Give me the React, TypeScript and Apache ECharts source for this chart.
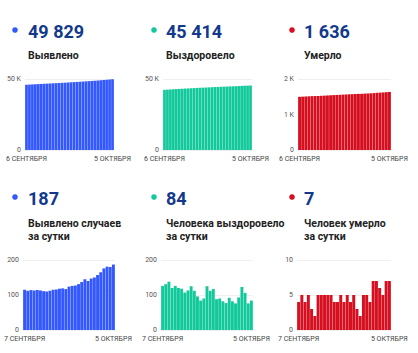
import React, { useEffect, useRef } from "react";
import * as echarts from "echarts";

const datesTop = [
  "6 СЕНТЯБРЯ", "7 СЕНТЯБРЯ", "8 СЕНТЯБРЯ", "9 СЕНТЯБРЯ", "10 СЕНТЯБРЯ", "11 СЕНТЯБРЯ",
  "12 СЕНТЯБРЯ", "13 СЕНТЯБРЯ", "14 СЕНТЯБРЯ", "15 СЕНТЯБРЯ", "16 СЕНТЯБРЯ", "17 СЕНТЯБРЯ",
  "18 СЕНТЯБРЯ", "19 СЕНТЯБРЯ", "20 СЕНТЯБРЯ", "21 СЕНТЯБРЯ", "22 СЕНТЯБРЯ", "23 СЕНТЯБРЯ",
  "24 СЕНТЯБРЯ", "25 СЕНТЯБРЯ", "26 СЕНТЯБРЯ", "27 СЕНТЯБРЯ", "28 СЕНТЯБРЯ", "29 СЕНТЯБРЯ",
  "30 СЕНТЯБРЯ", "1 ОКТЯБРЯ", "2 ОКТЯБРЯ", "3 ОКТЯБРЯ", "4 ОКТЯБРЯ", "5 ОКТЯБРЯ",
];
const datesDaily = datesTop.slice(1);

const casesTotal = [45957, 46072, 46184, 46298, 46411, 46525, 46638, 46749, 46859, 46971, 47086, 47202, 47320, 47439, 47556, 47680, 47806, 47933, 48064, 48201, 48346, 48486, 48633, 48783, 48940, 49105, 49281, 49462, 49642, 49829];
const recoveredTotal = [42385, 42511, 42642, 42780, 42900, 43026, 43146, 43264, 43371, 43484, 43609, 43721, 43817, 43901, 43991, 44116, 44228, 44345, 44433, 44523, 44605, 44682, 44774, 44856, 44932, 45025, 45148, 45254, 45330, 45414];
const deathsTotal = [1499, 1503, 1508, 1512, 1517, 1520, 1522, 1527, 1532, 1537, 1542, 1547, 1551, 1555, 1560, 1564, 1569, 1573, 1578, 1581, 1583, 1588, 1593, 1597, 1604, 1611, 1617, 1622, 1629, 1636];

const casesDaily = [115, 112, 114, 113, 114, 113, 111, 110, 112, 115, 116, 118, 119, 117, 124, 126, 127, 131, 137, 145, 140, 147, 150, 157, 165, 176, 181, 180, 187];
const recoveredDaily = [126, 131, 138, 120, 126, 120, 118, 107, 113, 125, 112, 96, 84, 90, 125, 112, 117, 88, 90, 82, 77, 92, 82, 76, 93, 123, 106, 76, 84];
const deathsDaily = [4, 5, 4, 5, 3, 2, 5, 5, 5, 5, 5, 4, 4, 5, 4, 5, 4, 5, 3, 2, 5, 5, 4, 7, 7, 6, 5, 7, 7];

const headlineValues = ["49 829", "45 414", "1 636", "187", "84", "7"];
const headlineTitles = [
  ["Выявлено"],
  ["Выздоровело"],
  ["Умерло"],
  ["Выявлено случаев", "за сутки"],
  ["Человека выздоровело", "за сутки"],
  ["Человек умерло", "за сутки"],
];

const BLUE = "#3358ff";
const GREEN = "#12c99b";
const RED = "#d50f1f";
const NAVY = "#12398c";

export default function App() {
  const ref = useRef<HTMLDivElement>(null);
  useEffect(() => {
    const chart = echarts.init(ref.current!, null, { renderer: "svg" });
    const colors = [BLUE, GREEN, RED, BLUE, GREEN, RED];
    const grids = [
      { left: 25, top: 79, width: 89, height: 71 },
      { left: 163, top: 79, width: 89, height: 71 },
      { left: 298, top: 79, width: 93, height: 71 },
      { left: 23, top: 260, width: 92, height: 70 },
      { left: 161, top: 260, width: 92, height: 70 },
      { left: 297, top: 260, width: 94, height: 70 },
    ];
    const cats = [datesTop, datesTop, datesTop, datesDaily, datesDaily, datesDaily];
    const datas = [casesTotal, recoveredTotal, deathsTotal, casesDaily, recoveredDaily, deathsDaily];
    const yMax = [50000, 50000, 2000, 200, 200, 10];
    const yInt = [50000, 50000, 1000, 100, 100, 5];
    const kFmt = (v: number) => (v === 0 ? "0" : v / 1000 + " K");
    const nFmt = (v: number) => String(v);
    const fmts = [kFmt, kFmt, kFmt, nFmt, nFmt, nFmt];

    const xAxis = cats.map((c, i) => ({
      type: "category" as const,
      gridIndex: i,
      data: c,
      axisLine: { show: false },
      axisTick: { show: false },
      axisLabel: {
        interval: (idx: number) => idx === 0 || idx === c.length - 1,
        color: "#444",
        fontSize: 7,
        fontFamily: "Roboto",
        margin: 5,
        hideOverlap: false,
      },
    }));
    const yAxis = yMax.map((m, i) => ({
      type: "value" as const,
      gridIndex: i,
      min: 0,
      max: m,
      interval: yInt[i],
      axisLabel: { color: "#555", fontSize: 7, fontFamily: "Roboto", margin: 4, formatter: fmts[i] },
      splitLine: { lineStyle: { color: "#efefef", width: 1 } },
      axisLine: { show: false },
      axisTick: { show: false },
    }));
    const series = datas.map((d, i) => ({
      type: "bar" as const,
      xAxisIndex: i,
      yAxisIndex: i,
      data: d,
      barCategoryGap: "8%",
      itemStyle: { color: colors[i] },
    }));

    const graphic: any[] = [];
    const cols = [
      { dot: 15, text: 28 },
      { dot: 154, text: 166 },
      { dot: 292, text: 304 },
    ];
    for (let i = 0; i < 6; i++) {
      const col = cols[i % 3];
      const row = Math.floor(i / 3);
      const numY = row === 0 ? 31 : 198;
      const titleY = row === 0 ? 55 : 223;
      graphic.push({
        type: "circle",
        shape: { cx: col.dot, cy: numY - 1, r: 2.8 },
        style: { fill: colors[i] },
      });
      graphic.push({
        type: "text",
        x: col.text,
        y: numY,
        style: {
          text: headlineValues[i],
          font: "bold 18px Roboto",
          fill: NAVY,
          verticalAlign: "middle",
        },
      });
      headlineTitles[i].forEach((t, j) => {
        graphic.push({
          type: "text",
          x: col.text,
          y: titleY + j * 13,
          style: {
            text: t,
            font: "bold 10.5px Roboto",
            fill: "#222",
            verticalAlign: "middle",
          },
        });
      });
    }

    chart.setOption({
      animation: false,
      backgroundColor: "#ffffff",
      grid: grids,
      xAxis,
      yAxis,
      series,
      graphic,
    });
    return () => chart.dispose();
  }, []);
  return (
    <div
      ref={ref}
      style={{ position: "fixed", left: 0, top: 0, width: 418, height: 353, background: "#fff" }}
    />
  );
}
